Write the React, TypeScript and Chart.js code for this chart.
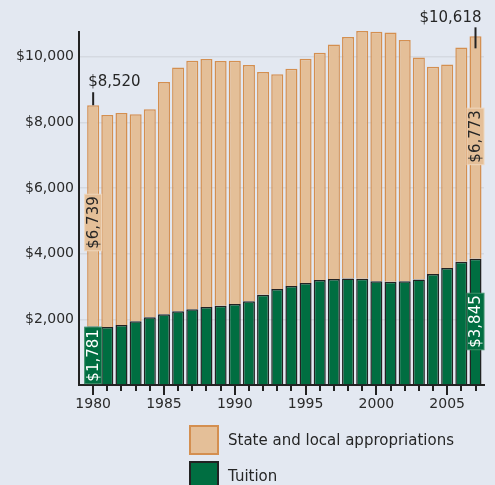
import React, { useEffect, useRef } from "react";
import { Chart, registerables } from "chart.js";

Chart.register(...registerables);

const years = [
  1980, 1981, 1982, 1983, 1984, 1985, 1986, 1987, 1988, 1989,
  1990, 1991, 1992, 1993, 1994, 1995, 1996, 1997, 1998, 1999,
  2000, 2001, 2002, 2003, 2004, 2005, 2006, 2007,
];
const tuition = [
  1781, 1768, 1829, 1940, 2062, 2153, 2244, 2305, 2376, 2417,
  2468, 2548, 2751, 2924, 3015, 3107, 3198, 3228, 3247, 3238,
  3156, 3146, 3156, 3216, 3380, 3563, 3754, 3845,
];
const appropriations = [
  6739, 6455, 6455, 6304, 6334, 7073, 7428, 7569, 7549, 7448,
  7406, 7195, 6779, 6536, 6616, 6828, 6919, 7144, 7347, 7539,
  7600, 7591, 7347, 6761, 6312, 6201, 6527, 6773,
];
const yTickValues = [0, 2000, 4000, 6000, 8000, 10000];
const xLabelEvery = 5;
const seriesNames = ["State and local appropriations", "Tuition"];
const calloutYears = [1980, 2007];
const apropLabelFrac = [0.47, 0.55];

const BG = "#e3e8f1";
const TAN = "#e4bf98";
const TAN_EDGE = "#d48f50";
const GREEN = "#006e41";
const GREEN_EDGE = "#222222";
const TEXT = "#262626";
const FONT = '15px "DejaVu Sans"';

const fmt = (v: number) => "$" + v.toLocaleString("en-US");

function vLabel(ctx: CanvasRenderingContext2D, text: string, cx: number, cy: number, fill: string, edge: string, color: string) {
  ctx.save();
  ctx.translate(cx, cy);
  ctx.rotate(-Math.PI / 2);
  ctx.font = FONT;
  const w = ctx.measureText(text).width;
  ctx.fillStyle = fill;
  ctx.fillRect(-w / 2 - 2, -8.5, w + 4, 17);
  ctx.strokeStyle = edge;
  ctx.lineWidth = 1;
  ctx.strokeRect(-w / 2 - 2, -8.5, w + 4, 17);
  ctx.fillStyle = color;
  ctx.textAlign = "center";
  ctx.textBaseline = "middle";
  ctx.fillText(text, 0, 1);
  ctx.restore();
}

const annotPlugin = {
  id: "annot",
  afterDatasetsDraw(chart: any) {
    const ctx: CanvasRenderingContext2D = chart.ctx;
    const metaT = chart.getDatasetMeta(0);
    const metaA = chart.getDatasetMeta(1);
    calloutYears.forEach((yr, k) => {
      const i = years.indexOf(yr);
      const barT = metaT.data[i];
      const barA = metaA.data[i];
      const total = tuition[i] + appropriations[i];
      ctx.save();
      ctx.font = FONT;
      ctx.fillStyle = TEXT;
      ctx.textBaseline = "middle";
      ctx.strokeStyle = "#222";
      ctx.lineWidth = 2;
      ctx.beginPath();
      if (k === 0) {
        ctx.textAlign = "left";
        ctx.fillText(fmt(total), barA.x - 5, barA.y - 23);
        ctx.moveTo(barA.x, barA.y - 13);
        ctx.lineTo(barA.x, barA.y);
      } else {
        ctx.textAlign = "right";
        ctx.fillText(fmt(total), barA.x + 6, barA.y - 18);
        ctx.moveTo(barA.x, barA.y - 9);
        ctx.lineTo(barA.x, barA.y + 12);
      }
      ctx.stroke();
      ctx.restore();
      const ya = barA.base - apropLabelFrac[k] * (barA.base - barA.y);
      vLabel(ctx, fmt(appropriations[i]), barA.x, ya, TAN, "#efd6bb", TEXT);
      const yt = (barT.y + barT.base) / 2;
      vLabel(ctx, fmt(tuition[i]), barT.x, yt, GREEN, "#3d8f68", "#ffffff");
    });
  },
  afterDraw(chart: any) {
    const ctx: CanvasRenderingContext2D = chart.ctx;
    const xs = chart.scales.x;
    const bottom = chart.chartArea.bottom;
    ctx.save();
    ctx.strokeStyle = "#222";
    ctx.lineWidth = 2;
    years.forEach((yr) => {
      const px = Math.round(xs.getPixelForValue(yr));
      const len = yr % xLabelEvery === 0 ? 10 : 6;
      ctx.beginPath();
      ctx.moveTo(px, bottom);
      ctx.lineTo(px, bottom + len);
      ctx.stroke();
    });
    const items = [
      { name: seriesNames[0], fill: TAN, edge: TAN_EDGE, y: 426 },
      { name: seriesNames[1], fill: GREEN, edge: GREEN_EDGE, y: 462 },
    ];
    items.forEach((it) => {
      ctx.fillStyle = it.fill;
      ctx.fillRect(190, it.y, 28, 28);
      ctx.strokeStyle = it.edge;
      ctx.lineWidth = 2;
      ctx.strokeRect(190, it.y, 28, 28);
      ctx.font = FONT;
      ctx.fillStyle = TEXT;
      ctx.textAlign = "left";
      ctx.textBaseline = "middle";
      ctx.fillText(it.name, 228, it.y + 15);
    });
    ctx.restore();
  },
};

export default function App() {
  const ref = useRef<HTMLCanvasElement>(null);
  useEffect(() => {
    document.body.style.margin = "0";
    document.body.style.background = BG;
    document.documentElement.style.background = BG;
    const canvas = ref.current!;
    const chart = new Chart(canvas, {
      type: "bar",
      data: {
        datasets: [
          {
            label: seriesNames[1],
            data: years.map((yr, i) => ({ x: yr, y: tuition[i] })),
            backgroundColor: GREEN,
            borderColor: GREEN_EDGE,
            borderWidth: 1.5,
            clip: false,
          },
          {
            label: seriesNames[0],
            data: years.map((yr, i) => ({ x: yr, y: appropriations[i] })),
            backgroundColor: TAN,
            borderColor: TAN_EDGE,
            borderWidth: 1.5,
            clip: false,
          },
        ],
      },
      options: {
        responsive: false,
        animation: false,
        devicePixelRatio: 1,
        categoryPercentage: 1,
        barPercentage: 0.85,
        layout: { padding: { top: 32, right: 11, left: 0, bottom: 70 } },
        plugins: { legend: { display: false }, tooltip: { enabled: false }, title: { display: false } },
        scales: {
          x: {
            type: "linear",
            stacked: true,
            offset: false,
            min: 1979,
            max: 2007.6,
            afterFit: (s: any) => { s.height = 30; },
            afterBuildTicks: (s: any) => { s.ticks = years.map((v) => ({ value: v })); },
            grid: { display: true, drawOnChartArea: false, drawTicks: false, offset: false },
            border: { display: true, color: "#222", width: 2 },
            ticks: {
              autoSkip: false,
              maxRotation: 0,
              padding: 11,
              color: "#2a2a2a",
              font: { family: "DejaVu Sans", size: 14 },
              callback: (v: any) => (Number(v) % xLabelEvery === 0 ? String(v) : ""),
            },
          },
          y: {
            type: "linear",
            stacked: true,
            min: 0,
            max: 10750,
            afterFit: (s: any) => { s.width = 79; },
            afterBuildTicks: (s: any) => { s.ticks = yTickValues.map((v) => ({ value: v })); },
            grid: {
              drawTicks: false,
              lineWidth: 1.5,
              color: "#d5d9e1",
            },
            border: { display: true, color: "#222", width: 2 },
            ticks: {
              autoSkip: false,
              padding: 5,
              color: "#2a2a2a",
              font: { family: "DejaVu Sans", size: 14 },
              callback: (v: any) => (Number(v) > 0 ? fmt(Number(v)) : ""),
            },
          },
        },
      },
      plugins: [annotPlugin],
    } as any);
    return () => chart.destroy();
  }, []);
  return <canvas ref={ref} width={495} height={485} style={{ display: "block", width: 495, height: 485 }} />;
}
